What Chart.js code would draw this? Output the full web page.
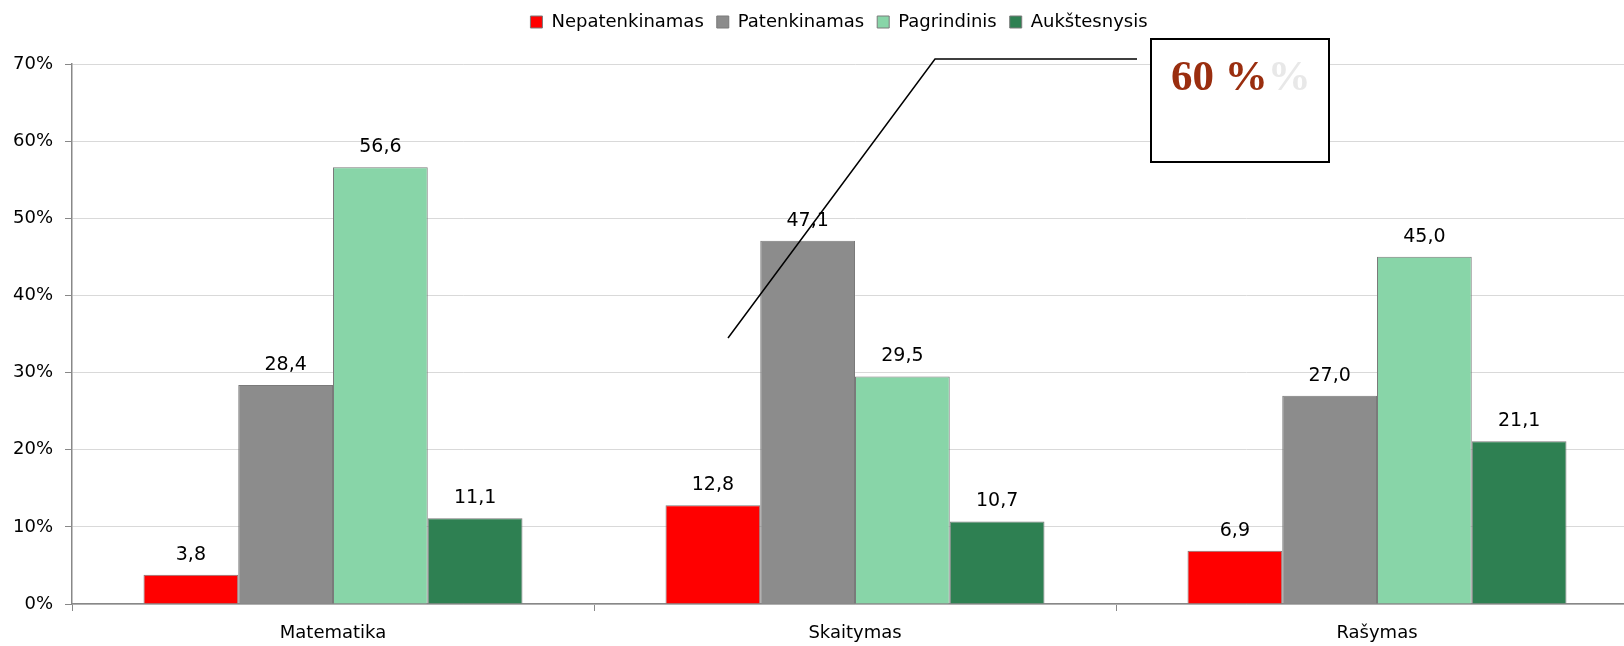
<!DOCTYPE html>
<html>
<head>
<meta charset="utf-8">
<script src="https://cdn.jsdelivr.net/npm/chart.js@4"></script>
<style>
  html, body { margin: 0; padding: 0; background: #fff; overflow: hidden; }
  #wrap { width: 1640px; height: 646px; position: relative; }
</style>
</head>
<body>
<div id="wrap"><canvas id="chart"></canvas></div>
<script>
const categories = ['Matematika', 'Skaitymas', 'Rašymas'];
const seriesNames = ['Nepatenkinamas', 'Patenkinamas', 'Pagrindinis', 'Aukštesnysis'];
const nepatenkinamas = [3.8, 12.8, 6.9];
const patenkinamas = [28.4, 47.1, 27.0];
const pagrindinis = [56.6, 29.5, 45.0];
const aukstesnysis = [11.1, 10.7, 21.1];
const yTicks = [0, 10, 20, 30, 40, 50, 60, 70];
const calloutMain = '60 %';
const calloutGhost = '%';

const colors = ['#ff0000', '#8c8c8c', '#88d5a8', '#2e8052'];
const FONT = '"DejaVu Sans", sans-serif';

const fmt = v => v.toFixed(1).replace('.', ',');

// value labels above each bar
const barLabels = {
  id: 'barLabels',
  afterDatasetsDraw(chart) {
    const ctx = chart.ctx;
    ctx.save();
    ctx.font = '19px ' + FONT;
    ctx.fillStyle = '#000';
    ctx.textAlign = 'center';
    ctx.textBaseline = 'alphabetic';
    chart.data.datasets.forEach((ds, i) => {
      chart.getDatasetMeta(i).data.forEach((bar, j) => {
        ctx.fillText(fmt(ds.data[j]), bar.x, bar.y - 15);
      });
    });
    ctx.restore();
  }
};

// the "60 %" call-out box with its leader line
const callout = {
  id: 'callout',
  afterDraw(chart) {
    const ctx = chart.ctx;
    ctx.save();
    ctx.strokeStyle = '#000';
    ctx.lineWidth = 1.5;
    ctx.beginPath();
    ctx.moveTo(728, 338);
    ctx.lineTo(935, 59);
    ctx.lineTo(1137, 59);
    ctx.stroke();

    ctx.fillStyle = '#fff';
    ctx.fillRect(1151, 39, 178, 123);
    ctx.lineWidth = 2;
    ctx.strokeRect(1151, 39, 178, 123);

    ctx.font = 'bold 43px "Liberation Serif", serif';
    ctx.textBaseline = 'alphabetic';
    ctx.textAlign = 'left';
    ctx.fillStyle = '#9a2e0f';
    ctx.fillText(calloutMain, 1171, 90);
    const w = ctx.measureText(calloutMain).width;
    ctx.fillStyle = '#e8e8e8';
    ctx.fillText(calloutGhost, 1171 + w, 90);
    ctx.restore();
  }
};

// legend sits a bit right of centre and its box is 64px tall
const legendBox = {
  id: 'legendBox',
  beforeInit(chart) {
    const orig = chart.legend.fit;
    chart.legend.fit = function () {
      orig.bind(chart.legend)();
      this.height = 64;
    };
  },
  afterLayout(chart) {
    chart.legend.left += 20;
    chart.legend.right += 20;
  }
};

const seriesData = [nepatenkinamas, patenkinamas, pagrindinis, aukstesnysis];

new Chart(document.getElementById('chart'), {
  type: 'bar',
  data: {
    labels: categories,
    datasets: seriesNames.map((name, i) => ({
      label: name,
      data: seriesData[i],
      backgroundColor: colors[i],
      borderColor: '#7a7a7a',
      borderWidth: 1,
      barPercentage: 1,
      categoryPercentage: 0.726
    }))
  },
  options: {
    responsive: true,
    maintainAspectRatio: false,
    animation: false,
    layout: { padding: { top: 0, right: 2, bottom: 0, left: 0 } },
    plugins: {
      legend: {
        position: 'top',
        labels: {
          color: '#000',
          font: { family: FONT, size: 18 },
          boxWidth: 12,
          boxHeight: 12,
          padding: 13
        }
      },
      tooltip: { enabled: false }
    },
    scales: {
      x: {
        grid: {
          offset: true,
          drawOnChartArea: false,
          drawTicks: true,
          tickLength: 7,
          tickColor: '#888'
        },
        border: { color: '#888', width: 1.5 },
        ticks: {
          color: '#000',
          font: { family: FONT, size: 18 },
          padding: 12
        },
        afterFit(scale) { scale.height = 42; }
      },
      y: {
        min: 0,
        max: 70,
        afterBuildTicks(scale) { scale.ticks = yTicks.map(v => ({ value: v })); },
        grid: {
          color: '#d9d9d9',
          lineWidth: 1,
          tickLength: 7,
          tickColor: '#888'
        },
        border: { color: '#888', width: 1.5 },
        ticks: {
          color: '#000',
          font: { family: FONT, size: 18 },
          padding: 12,
          callback: v => v + '%'
        },
        afterFit(scale) { scale.width = 72; }
      }
    }
  },
  plugins: [legendBox, barLabels, callout]
});
</script>
</body>
</html>
